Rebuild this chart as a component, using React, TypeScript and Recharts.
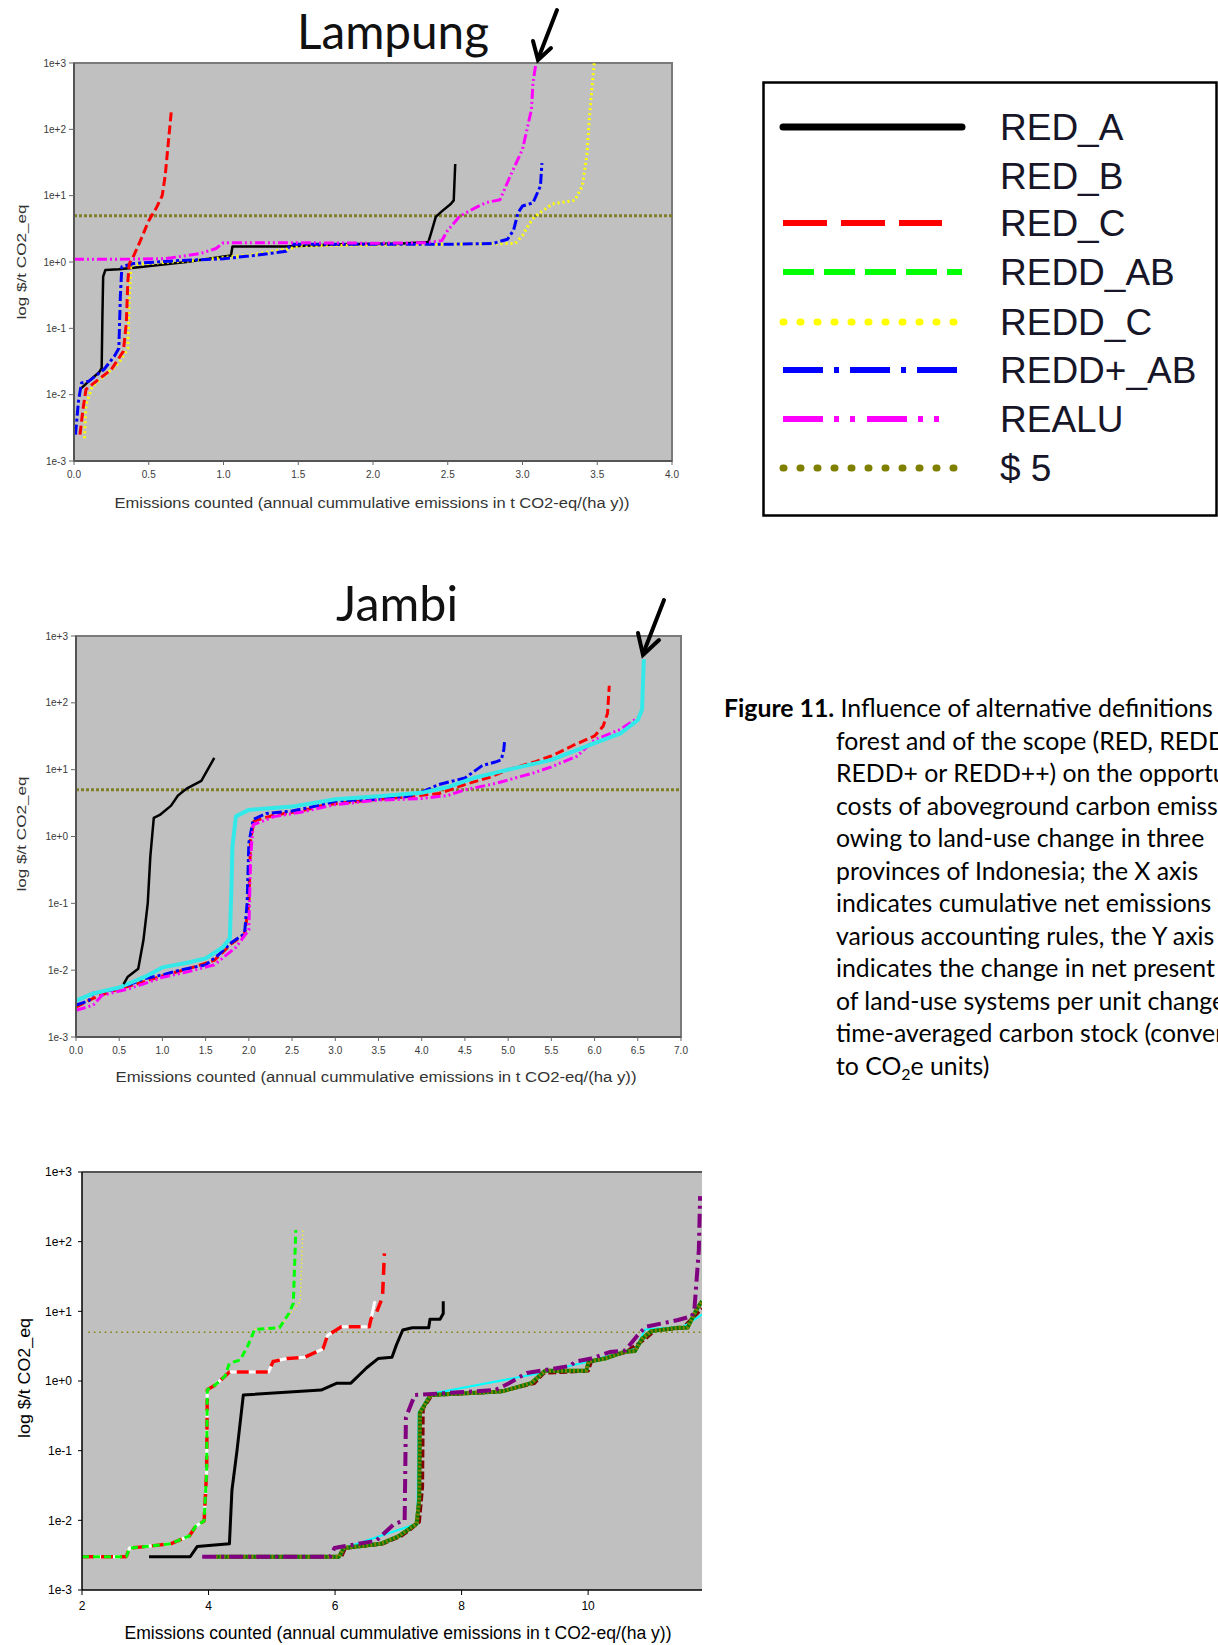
import React from 'react';
import { LineChart, Line, XAxis, YAxis, ReferenceLine, ReferenceArea, Label } from 'recharts';

const FONT = '"Liberation Sans", Arial, Helvetica, sans-serif';
const TITLE_FONT = 'Lato, "Open Sans", sans-serif';

// ---------- tick values / labels ----------
const yTicks = [0.001, 0.01, 0.1, 1, 10, 100, 1000];
const yTickLabels = ['1e-3', '1e-2', '1e-1', '1e+0', '1e+1', '1e+2', '1e+3'];
const lampungXTicks = [0, 0.5, 1, 1.5, 2, 2.5, 3, 3.5, 4];
const jambiXTicks = [0, 0.5, 1, 1.5, 2, 2.5, 3, 3.5, 4, 4.5, 5, 5.5, 6, 6.5, 7];
const thirdXTicks = [2, 4, 6, 8, 10];
const dollarThreshold = 5;
const xAxisTitle = 'Emissions counted (annual cummulative emissions in t CO2-eq/(ha y))';
const yAxisTitle = 'log $/t CO2_eq';

// ---------- Lampung series (x, $/t) ----------
const lampungRedA = [[0.04, 0.012], [0.1, 0.016], [0.17, 0.022], [0.185, 0.025], [0.19, 0.15], [0.195, 0.6], [0.21, 0.76], [0.3, 0.78], [0.4, 0.82], [0.75, 1.0], [1.05, 1.25], [1.06, 1.72], [1.41, 1.72], [1.8, 1.85], [2.2, 1.9], [2.37, 2.0], [2.39, 2.8], [2.42, 4.8], [2.46, 5.8], [2.52, 7.5], [2.54, 8.5], [2.55, 30]];
const lampungRedC = [[0.04, 0.0025], [0.06, 0.006], [0.08, 0.012], [0.15, 0.016], [0.25, 0.024], [0.33, 0.045], [0.35, 0.12], [0.36, 0.5], [0.37, 0.95], [0.4, 1.25], [0.44, 2.0], [0.5, 4.2], [0.55, 6.5], [0.59, 10], [0.61, 20], [0.63, 60], [0.65, 180]];
const lampungReddC = [[0.07, 0.0022], [0.08, 0.007], [0.12, 0.013], [0.2, 0.019], [0.3, 0.03], [0.36, 0.05], [0.37, 0.3], [0.38, 0.9], [0.5, 0.95], [0.8, 1.05], [1.2, 1.3], [1.45, 1.6], [1.5, 1.75], [2.0, 1.8], [2.5, 1.85], [2.95, 1.9], [3.0, 2.5], [3.04, 3.6], [3.08, 4.8], [3.2, 7.5], [3.35, 8.5], [3.4, 14], [3.43, 40], [3.45, 180], [3.48, 1000]];
const lampungReddPlusAB = [[0.01, 0.0025], [0.03, 0.008], [0.05, 0.015], [0.1, 0.016], [0.2, 0.024], [0.27, 0.038], [0.3, 0.05], [0.31, 0.3], [0.32, 0.85], [0.4, 0.95], [0.7, 1.05], [1.0, 1.12], [1.2, 1.25], [1.42, 1.45], [1.45, 1.85], [2.0, 1.85], [2.5, 1.85], [2.8, 1.9], [2.9, 2.2], [2.94, 3.0], [2.97, 5.5], [3.0, 7.0], [3.07, 7.8], [3.12, 14], [3.13, 31]];
const lampungRealu = [[0.0, 1.1], [0.3, 1.1], [0.6, 1.12], [0.7, 1.2], [0.85, 1.35], [0.95, 1.6], [1.0, 1.95], [1.5, 1.95], [2.0, 1.92], [2.35, 1.95], [2.46, 2.1], [2.5, 3.0], [2.58, 4.9], [2.68, 6.5], [2.76, 7.9], [2.85, 8.7], [2.91, 18], [3.0, 50], [3.06, 200], [3.07, 500], [3.09, 1000]];

// ---------- Jambi series ----------
const jambiRedA = [[0.55, 0.0062], [0.6, 0.008], [0.72, 0.0105], [0.78, 0.028], [0.83, 0.1], [0.86, 0.5], [0.9, 1.9], [0.97, 2.1], [1.1, 2.9], [1.18, 4.1], [1.28, 5.2], [1.45, 6.8], [1.6, 15]];
const jambiRedC = [[0.0, 0.0028], [0.2, 0.0038], [0.4, 0.0048], [0.7, 0.0062], [1.0, 0.0082], [1.3, 0.0105], [1.6, 0.014], [1.8, 0.025], [1.95, 0.034], [2.0, 0.1], [2.02, 0.9], [2.06, 1.7], [2.3, 2.1], [2.6, 2.4], [2.9, 3.0], [3.3, 3.4], [3.8, 3.9], [4.2, 4.4], [4.5, 6.0], [4.8, 7.8], [5.0, 10], [5.3, 13], [5.5, 16], [5.75, 23], [6.0, 32], [6.1, 45], [6.15, 70], [6.17, 180]];
const jambiReddPlusAB = [[0.0, 0.003], [0.15, 0.0035], [0.2, 0.0045], [0.4, 0.005], [0.6, 0.006], [0.8, 0.0075], [1.0, 0.0085], [1.2, 0.01], [1.5, 0.012], [1.65, 0.017], [1.8, 0.026], [1.95, 0.035], [1.98, 0.1], [2.0, 0.8], [2.05, 1.8], [2.2, 2.2], [2.5, 2.4], [2.8, 2.9], [3.0, 3.4], [3.5, 3.6], [3.8, 3.9], [4.0, 4.6], [4.2, 6.0], [4.5, 7.5], [4.7, 11.5], [4.85, 13], [4.92, 14], [4.95, 20], [4.96, 28]];
const jambiRealu = [[0.0, 0.0025], [0.2, 0.003], [0.3, 0.0042], [0.6, 0.0052], [1.0, 0.0078], [1.3, 0.0095], [1.6, 0.012], [1.85, 0.022], [2.0, 0.04], [2.02, 0.5], [2.05, 1.5], [2.3, 2.0], [2.6, 2.3], [3.0, 3.0], [3.5, 3.5], [4.0, 3.7], [4.3, 4.1], [4.5, 5.0], [4.8, 6.0], [5.0, 7.0], [5.3, 9.0], [5.5, 11], [5.8, 16], [6.0, 28], [6.3, 40], [6.5, 60]];
const jambiReddPlusPlus = [[0.0, 0.0035], [0.2, 0.0045], [0.5, 0.0055], [0.8, 0.008], [1.0, 0.011], [1.3, 0.013], [1.5, 0.015], [1.7, 0.022], [1.78, 0.03], [1.8, 0.2], [1.81, 0.7], [1.85, 2.0], [2.0, 2.5], [2.5, 2.8], [3.0, 3.6], [3.5, 4.0], [4.0, 4.5], [4.3, 5.5], [4.6, 7.5], [5.0, 10], [5.5, 14], [6.0, 25], [6.3, 35], [6.5, 55], [6.55, 80], [6.56, 200], [6.57, 450]];

// ---------- third panel series ----------
const t3ReddAB = [[2.0, 0.003], [2.7, 0.003], [2.75, 0.004], [3.0, 0.0042], [3.4, 0.0046], [3.7, 0.006], [3.8, 0.0083], [3.93, 0.0098], [3.97, 0.05], [3.98, 0.75], [4.1, 0.87], [4.26, 1.17], [4.33, 1.8], [4.5, 2.0], [4.62, 3.2], [4.73, 5.5], [5.12, 5.8], [5.27, 9.3], [5.34, 13], [5.38, 147]];
const t3ReddC = [[4.73, 5.5], [5.12, 5.8], [5.3, 9.5], [5.45, 14], [5.49, 150]];
const t3RedB = [[2.0, 0.003], [2.7, 0.003], [2.75, 0.004], [3.0, 0.0042], [3.4, 0.0046], [3.7, 0.006], [3.8, 0.0083], [3.93, 0.0098], [3.97, 0.05], [3.98, 0.75], [4.1, 0.87], [4.26, 1.17], [4.33, 1.35], [4.95, 1.35], [5.02, 1.9], [5.24, 2.1], [5.52, 2.2], [5.81, 2.9], [5.88, 4.5], [6.1, 6.0], [6.54, 6.0], [6.57, 7.9], [6.63, 14]];
const t3RedC = [[2.0, 0.003], [2.7, 0.003], [2.75, 0.004], [3.0, 0.0042], [3.4, 0.0046], [3.7, 0.006], [3.8, 0.0083], [3.93, 0.0098], [3.97, 0.05], [3.98, 0.75], [4.1, 0.87], [4.26, 1.17], [4.33, 1.35], [4.95, 1.35], [5.02, 1.9], [5.24, 2.1], [5.52, 2.2], [5.81, 2.9], [5.88, 4.5], [6.1, 6.0], [6.54, 6.0], [6.57, 7.9], [6.65, 9.4], [6.75, 16], [6.78, 68]];
const t3RedA = [[3.06, 0.003], [3.71, 0.003], [3.82, 0.0042], [4.33, 0.0046], [4.37, 0.027], [4.45, 0.1], [4.55, 0.63], [5.78, 0.74], [6.03, 0.93], [6.25, 0.93], [6.5, 1.55], [6.68, 2.1], [6.9, 2.2], [6.97, 3.3], [7.07, 5.4], [7.22, 5.8], [7.48, 5.8], [7.5, 7.7], [7.66, 7.7], [7.71, 9.3], [7.71, 14]];
const t3Purple = [[3.9, 0.003], [5.92, 0.003], [5.99, 0.004], [6.65, 0.0051], [6.93, 0.0088], [7.1, 0.01], [7.12, 0.3], [7.26, 0.63], [8.53, 0.74], [8.75, 0.93], [9.03, 1.3], [9.72, 1.65], [9.8, 1.9], [10.05, 2.1], [10.34, 2.6], [10.59, 2.75], [10.77, 4.4], [10.91, 6.0], [11.42, 7.5], [11.64, 8.5], [11.68, 10.7], [11.75, 76], [11.77, 450]];
const t3Olive = [[4.11, 0.003], [6.06, 0.003], [6.14, 0.004], [6.72, 0.0046], [7.0, 0.0059], [7.15, 0.0073], [7.29, 0.009], [7.33, 0.02], [7.34, 0.35], [7.51, 0.63], [8.53, 0.7], [8.67, 0.72], [9.1, 0.93], [9.28, 1.3], [9.32, 1.4], [9.97, 1.4], [10.01, 1.9], [10.27, 2.1], [10.56, 2.6], [10.74, 2.7], [10.85, 4.0], [11.0, 5.2], [11.42, 5.8], [11.57, 5.8], [11.71, 10.5], [11.8, 14]];
const t3Maroon = [[4.2, 0.003], [6.1, 0.003], [6.16, 0.004], [6.75, 0.0046], [7.05, 0.006], [7.2, 0.0075], [7.33, 0.0095], [7.38, 0.03], [7.39, 0.4], [7.53, 0.63], [8.6, 0.7], [9.15, 0.93], [9.3, 1.3], [10.0, 1.4], [10.05, 1.9], [10.6, 2.6], [10.9, 4.0], [11.05, 5.3], [11.5, 5.8], [11.8, 11]];
const t3Cyan = [[4.3, 0.003], [6.08, 0.003], [6.15, 0.004], [7.3, 0.009], [7.32, 0.35], [7.5, 0.65], [9.25, 1.3], [10.0, 1.9], [10.75, 2.9], [10.9, 5.5], [11.5, 6.0], [11.8, 9]];

// ---------- legend / caption text ----------
const legendNames = ['RED_A', 'RED_B', 'RED_C', 'REDD_AB', 'REDD_C', 'REDD+_AB', 'REALU', '$ 5'];
const captionLines = [
  'forest and of the scope (RED, REDD,',
  'REDD+ or REDD++) on the opportunity',
  'costs of aboveground carbon emissions',
  'owing to land-use change in three',
  'provinces of Indonesia; the X axis',
  'indicates cumulative net emissions for',
  'various accounting rules, the Y axis',
  'indicates the change in net present value',
  'of land-use systems per unit change in',
  'time-averaged carbon stock (converted',
];

// ---------- styles ----------
const legendStyle = [
  { stroke: '#000000', dash: '', w: 7, cap: 'round', end: 200 },
  { stroke: '#ffffff', dash: '', w: 7, cap: 'butt', end: 200 },
  { stroke: '#ff0000', dash: '44 14', w: 6, cap: 'butt', end: 180 },
  { stroke: '#00ff00', dash: '31 10', w: 6, cap: 'butt', end: 200 },
  { stroke: '#ffff00', dash: '1 16', w: 7, cap: 'round', end: 192 },
  { stroke: '#0000ff', dash: '40 11 5 11', w: 6, cap: 'butt', end: 198 },
  { stroke: '#ff00ff', dash: '40 11 5 11 5 12', w: 6, cap: 'butt', end: 183 },
  { stroke: '#808000', dash: '1 16', w: 7, cap: 'round', end: 192 },
];

type Pt = { x: number; y: number };
const toPts = (rows: number[][]): Pt[] => rows.map(([x, y]) => ({ x, y }));
const fmtY = (v: number) => {
  const i = yTicks.findIndex((t) => Math.abs(t - v) < t * 1e-6);
  return i >= 0 ? yTickLabels[i] : '';
};

const series = (
  key: string,
  rows: number[][],
  stroke: string,
  width: number,
  dash?: string,
  cap: 'butt' | 'round' = 'butt'
) => (
  <Line
    key={key}
    name={key}
    data={toPts(rows)}
    dataKey="y"
    type="linear"
    stroke={stroke}
    strokeWidth={width}
    strokeDasharray={dash}
    strokeLinecap={cap}
    strokeLinejoin="round"
    dot={false}
    activeDot={false}
    isAnimationActive={false}
    connectNulls
  />
);

const hLabel = (x: number, y: number, len: number, size: number, fill: string) => () => (
  <text x={x} y={y} textAnchor="middle" fontSize={size} fontFamily={FONT} fill={fill} textLength={len} lengthAdjust="spacingAndGlyphs">
    {xAxisTitle}
  </text>
);
const vLabel = (x: number, y: number, len: number, size: number, fill: string) => () => (
  <text x={x} y={y} transform={`rotate(-90 ${x} ${y})`} textAnchor="middle" dominantBaseline="central" fontSize={size} fontFamily={FONT} fill={fill} textLength={len} lengthAdjust="spacingAndGlyphs">
    {yAxisTitle}
  </text>
);

const smallTick = { fontSize: 10, fill: '#3a3a3a', fontFamily: FONT };

function Lampung() {
  return (
    <div style={{ position: 'absolute', left: 0, top: 40 }}>
      <LineChart width={700} height={480} margin={{ top: 23, right: 28, bottom: 0, left: 0 }}>
        <ReferenceArea x1={0} x2={4} y1={0.001} y2={1000} fill="#c0c0c0" fillOpacity={1} stroke="#7a7a7a" strokeWidth={2} />
        <XAxis type="number" dataKey="x" domain={[0, 4]} ticks={lampungXTicks} allowDataOverflow height={59} tickSize={4} tickMargin={6}
          tickFormatter={(v: number) => v.toFixed(1)} tick={smallTick} axisLine={{ stroke: '#555', strokeWidth: 2 }} tickLine={{ stroke: '#666' }}>
          <Label content={hLabel(372, 468, 515, 14, '#333')} />
        </XAxis>
        <YAxis type="number" scale="log" domain={[0.001, 1000]} ticks={yTicks} allowDataOverflow width={74} tickSize={5} tickMargin={3}
          tickFormatter={fmtY} tick={smallTick} axisLine={{ stroke: '#555', strokeWidth: 2 }} tickLine={{ stroke: '#666' }}>
          <Label content={vLabel(21, 222, 115, 13, '#333')} />
        </YAxis>
        <ReferenceLine y={dollarThreshold} stroke="#7f7f2a" strokeWidth={3} strokeDasharray="3 2" />
        {series('RED_A', lampungRedA, '#000000', 2.5)}
        {series('REDD_C', lampungReddC, '#ffff00', 3, '2 3')}
        {series('REDD+_AB', lampungReddPlusAB, '#0000ff', 3, '10 3 3 3')}
        {series('RED_C', lampungRedC, '#ff0000', 3, '9 4')}
        {series('REALU', lampungRealu, '#ff00ff', 3, '10 3 2 3 2 3')}
      </LineChart>
    </div>
  );
}

function Jambi() {
  return (
    <div style={{ position: 'absolute', left: 0, top: 600 }}>
      <LineChart width={720} height={490} margin={{ top: 36, right: 39, bottom: 0, left: 0 }}>
        <ReferenceArea x1={0} x2={7} y1={0.001} y2={1000} fill="#c0c0c0" fillOpacity={1} stroke="#7a7a7a" strokeWidth={2} />
        <XAxis type="number" dataKey="x" domain={[0, 7]} ticks={jambiXTicks} allowDataOverflow height={53} tickSize={4} tickMargin={6}
          tickFormatter={(v: number) => v.toFixed(1)} tick={smallTick} axisLine={{ stroke: '#555', strokeWidth: 2 }} tickLine={{ stroke: '#666' }}>
          <Label content={hLabel(376, 482, 521, 14, '#333')} />
        </XAxis>
        <YAxis type="number" scale="log" domain={[0.001, 1000]} ticks={yTicks} allowDataOverflow width={76} tickSize={5} tickMargin={3}
          tickFormatter={fmtY} tick={smallTick} axisLine={{ stroke: '#555', strokeWidth: 2 }} tickLine={{ stroke: '#666' }}>
          <Label content={vLabel(21, 234, 115, 13, '#333')} />
        </YAxis>
        <ReferenceLine y={dollarThreshold} stroke="#7f7f2a" strokeWidth={3} strokeDasharray="3 2" />
        {series('RED_C', jambiRedC, '#ff0000', 3, '9 4')}
        {series('REDD+_AB', jambiReddPlusAB, '#0000ff', 3, '10 3 3 3')}
        {series('REALU', jambiRealu, '#ff00ff', 3, '10 3 2 3 2 3')}
        {series('REDD++', jambiReddPlusPlus, '#33e8e8', 4)}
        {series('RED_A', jambiRedA, '#000000', 2.5)}
      </LineChart>
    </div>
  );
}

function ThirdPanel() {
  return (
    <div style={{ position: 'absolute', left: 0, top: 1150 }}>
      <LineChart width={720} height={495} margin={{ top: 22, right: 18, bottom: 0, left: 0 }}>
        <ReferenceArea x1={2} x2={11.8} y1={0.001} y2={1000} fill="#c0c0c0" fillOpacity={1} stroke="none" />
        <XAxis type="number" dataKey="x" domain={[2, 11.8]} ticks={thirdXTicks} allowDataOverflow height={55} tickSize={5} tickMargin={6}
          tick={{ fontSize: 12, fill: '#000', fontFamily: FONT }} axisLine={{ stroke: '#000', strokeWidth: 1.5 }} tickLine={{ stroke: '#000' }}>
          <Label content={hLabel(398, 489, 547, 18, '#000')} />
        </XAxis>
        <YAxis type="number" scale="log" domain={[0.001, 1000]} ticks={yTicks} allowDataOverflow width={82} tickSize={4} tickMargin={6}
          tickFormatter={fmtY} tick={{ fontSize: 12, fill: '#000', fontFamily: FONT }} axisLine={{ stroke: '#000', strokeWidth: 1.5 }} tickLine={{ stroke: '#000' }}>
          <Label content={vLabel(24, 228, 120, 17, '#000')} />
        </YAxis>
        <ReferenceLine y={1000} stroke="#555" strokeWidth={2} />
        <ReferenceLine segment={[{ x: 2.1, y: dollarThreshold }, { x: 11.8, y: dollarThreshold }]} stroke="#808000" strokeWidth={1.5} strokeDasharray="1.5 4" />
        {series('bundle_maroon', t3Maroon, '#800000', 3.5, '8 3')}
        {series('bundle_cyan', t3Cyan, '#00ffff', 2)}
        {series('bundle_green', t3Olive, '#007a00', 4)}
        {series('bundle_olive', t3Olive, '#808000', 4, '2 2')}
        {series('REDD++', t3Purple, '#800080', 4, '14 5 3 5')}
        {series('RED_A', t3RedA, '#000000', 3)}
        {series('RED_B', t3RedB, '#ffffff', 3)}
        {series('RED_C', t3RedC, '#ff0000', 3.5, '12 7')}
        {series('REDD_C', t3ReddC, '#ffff00', 1.5, '1 3')}
        {series('REDD_AB', t3ReddAB, '#00ff00', 3, '7 4')}
      </LineChart>
    </div>
  );
}

function LegendBox() {
  const rowY = [46, 95, 142, 191, 241, 289, 338, 387];
  return (
    <svg style={{ position: 'absolute', left: 762, top: 81 }} width={456} height={436}>
      <rect x={1.5} y={1.5} width={453} height={433} fill="#fff" stroke="#000" strokeWidth={2.5} />
      {legendNames.map((n, i) => (
        <g key={n}>
          <line x1={21} x2={legendStyle[i].end} y1={rowY[i]} y2={rowY[i]} stroke={legendStyle[i].stroke} strokeWidth={legendStyle[i].w}
            strokeDasharray={legendStyle[i].dash || undefined} strokeLinecap={legendStyle[i].cap as any} />
          <text x={238} y={rowY[i] + 13} fontSize={37} fontFamily={FONT} fill="#161628">{n}</text>
        </g>
      ))}
    </svg>
  );
}

function Caption() {
  const lineStyle: React.CSSProperties = { height: 32.5, lineHeight: '32.5px', whiteSpace: 'nowrap' };
  return (
    <div style={{ position: 'absolute', left: 724, top: 692, fontFamily: TITLE_FONT, fontSize: 24.8, color: '#000' }}>
      <div style={lineStyle}>
        <b>Figure 11.</b> Influence of alternative definitions of
      </div>
      {captionLines.map((l) => (
        <div key={l} style={{ ...lineStyle, marginLeft: 112 }}>{l}</div>
      ))}
      <div style={{ ...lineStyle, marginLeft: 112 }}>
        to CO<span style={{ fontSize: 16, position: 'relative', top: 5 }}>2</span>e units)
      </div>
    </div>
  );
}

function Overlay() {
  return (
    <svg style={{ position: 'absolute', left: 0, top: 0, pointerEvents: 'none' }} width={1218} height={1645}>
      <text x={393} y={49} textAnchor="middle" fontSize={48} fontFamily={TITLE_FONT} fill="#111" textLength={192} lengthAdjust="spacingAndGlyphs">Lampung</text>
      <text x={397} y={621} textAnchor="middle" fontSize={48} fontFamily={TITLE_FONT} fill="#111" textLength={122} lengthAdjust="spacingAndGlyphs">Jambi</text>
      <g stroke="#000" strokeWidth={4} strokeLinecap="round" fill="none">
        <line x1={557} y1={10} x2={538} y2={59} />
        <polyline points="533,41 538,60 551,48" />
        <line x1={664} y1={600} x2={643} y2={654} />
        <polyline points="638,633 643,655 659,640" />
      </g>
    </svg>
  );
}

export default function App() {
  return (
    <div style={{ position: 'absolute', left: 0, top: 0, width: 1218, height: 1645, overflow: 'hidden', background: '#fff' }}>
      <Lampung />
      <Jambi />
      <ThirdPanel />
      <LegendBox />
      <Caption />
      <Overlay />
    </div>
  );
}
